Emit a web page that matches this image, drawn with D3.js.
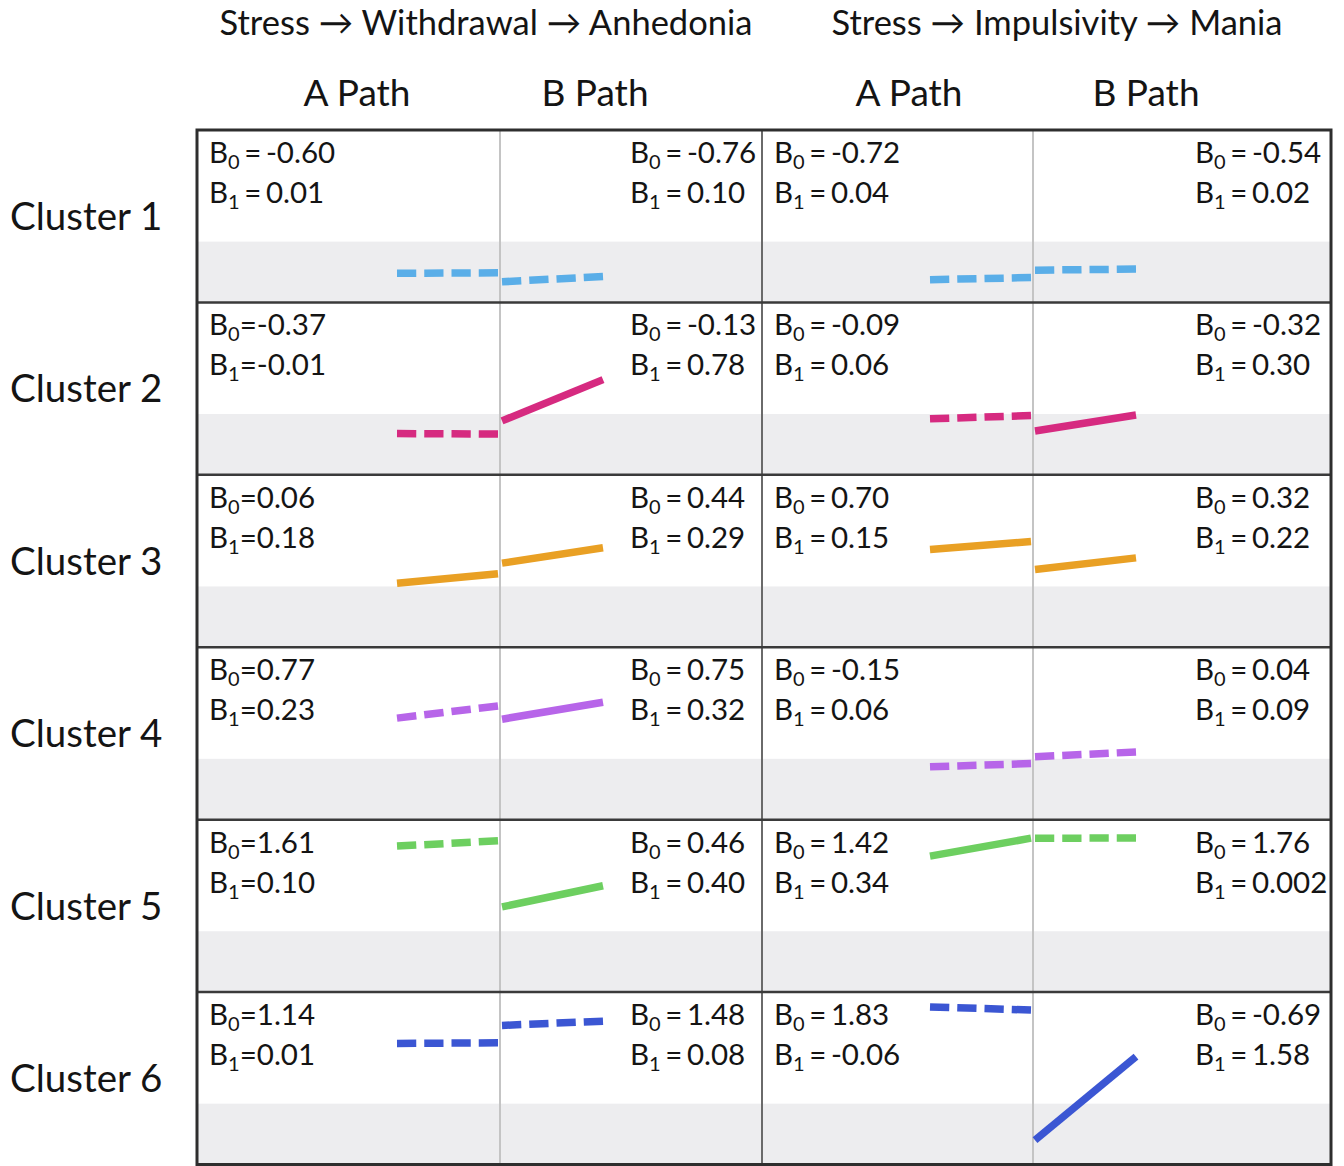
<!DOCTYPE html>
<html>
<head>
<meta charset="utf-8">
<script src="https://cdn.jsdelivr.net/npm/d3@7"></script>
<style>
  html, body { margin: 0; padding: 0; background: #fff; }
  svg { display: block; font-family: Lato, "Noto Sans", sans-serif; }
</style>
</head>
<body>
<svg id="chart" width="1344" height="1166"></svg>
<script>
// ---------- data ----------
const clusters = ["Cluster 1", "Cluster 2", "Cluster 3", "Cluster 4", "Cluster 5", "Cluster 6"];
const pathways = ["Stress \u2192 Withdrawal \u2192 Anhedonia", "Stress \u2192 Impulsivity \u2192 Mania"];
const pathLabels = ["A Path", "B Path"];
const clusterColors = ["#5aaee8", "#d62a80", "#e9a024", "#b765e9", "#6dcf60", "#3b56d3"];
// columns: [Withdrawal A, Withdrawal B, Impulsivity A, Impulsivity B]
const intercepts = [
  [-0.60, -0.76, -0.72, -0.54],
  [-0.37, -0.13, -0.09, -0.32],
  [ 0.06,  0.44,  0.70,  0.32],
  [ 0.77,  0.75, -0.15,  0.04],
  [ 1.61,  0.46,  1.42,  1.76],
  [ 1.14,  1.48,  1.83, -0.69]
];
const slopes = [
  [ 0.01, 0.10,  0.04, 0.02],
  [-0.01, 0.78,  0.06, 0.30],
  [ 0.18, 0.29,  0.15, 0.22],
  [ 0.23, 0.32,  0.06, 0.09],
  [ 0.10, 0.40,  0.34, 0.002],
  [ 0.01, 0.08, -0.06, 1.58]
];
const significant = [
  [false, false, false, false],
  [false, true,  false, true ],
  [true,  true,  true,  true ],
  [false, true,  false, false],
  [false, true,  true,  false],
  [false, false, false, true ]
];
const xValues = [0, 1];

// ---------- layout ----------
const svg = d3.select("#chart");
const colEdges = [197, 500, 762, 1033, 1331];
const gridTop = 130, gridBottom = 1164.5;

const rowScale = d3.scaleBand().domain(clusters).range([gridTop, gridBottom]).padding(0);
const rowH = rowScale.bandwidth();
const yDomain = [-1.15, 2.11];

const fmt = v => (Math.abs(v) > 0 && Math.abs(v) < 0.01) ? String(v) : v.toFixed(2);

// gray negative bands
clusters.forEach((c, r) => {
  const top = rowScale(c);
  const y = d3.scaleLinear().domain(yDomain).range([top + rowH, top]);
  svg.append("rect")
    .attr("x", colEdges[0]).attr("width", colEdges[4] - colEdges[0])
    .attr("y", y(0)).attr("height", top + rowH - y(0))
    .attr("fill", "#ededef");
});

// inner lines
const g = svg.append("g");
[1, 3].forEach(i => {
  g.append("line").attr("x1", colEdges[i]).attr("x2", colEdges[i])
    .attr("y1", gridTop).attr("y2", gridBottom)
    .attr("stroke", "#c4c4c4").attr("stroke-width", 2);
});
g.append("line").attr("x1", colEdges[2]).attr("x2", colEdges[2])
  .attr("y1", gridTop).attr("y2", gridBottom)
  .attr("stroke", "#6a6a6a").attr("stroke-width", 2);
clusters.slice(1).forEach(c => {
  g.append("line").attr("x1", colEdges[0]).attr("x2", colEdges[4])
    .attr("y1", rowScale(c)).attr("y2", rowScale(c))
    .attr("stroke", "#3a3a3a").attr("stroke-width", 2.5);
});
g.append("rect").attr("x", colEdges[0]).attr("y", gridTop)
  .attr("width", colEdges[4] - colEdges[0]).attr("height", gridBottom - gridTop)
  .attr("fill", "none").attr("stroke", "#2e2e2e").attr("stroke-width", 3);

// lines (regression segments)
const lineGen = d3.line();
const gap = 8;
clusters.forEach((c, r) => {
  const top = rowScale(c);
  const y = d3.scaleLinear().domain(yDomain).range([top + rowH, top]);
  for (let col = 0; col < 4; col++) {
    const divider = colEdges[col < 2 ? 1 : 3];
    const isA = col % 2 === 0;
    const x = d3.scaleLinear().domain([0, 1])
      .range(isA ? [divider - 103, divider - 2] : [divider + 2, divider + 103]);
    const pts = xValues.map(v => [x(v), y(intercepts[r][col] + slopes[r][col] * v)]);
    const p = svg.append("path")
      .attr("d", lineGen(pts))
      .attr("fill", "none")
      .attr("stroke", clusterColors[r])
      .attr("stroke-width", 7.5);
    if (!significant[r][col]) {
      const L = p.node().getTotalLength();
      const dash = (L - 3 * gap) / 4;
      p.attr("stroke-dasharray", dash + "," + gap);
    }
  }
});

// coefficient text
const textX = [209, 630, 774, 1195];
clusters.forEach((c, r) => {
  const top = rowScale(c);
  for (let col = 0; col < 4; col++) {
    const eq = (col === 0 && r > 0) ? "=" : " = ";
    const lines = [["0", intercepts[r][col]], ["1", slopes[r][col]]];
    lines.forEach(([sub, val], k) => {
      const t = svg.append("text")
        .attr("x", textX[col])
        .attr("y", top + 33 + k * 40)
        .attr("font-size", 29.5)
        .attr("word-spacing", -3)
        .attr("fill", "#141414");
      t.append("tspan").text("B");
      t.append("tspan").text(sub).attr("font-size", 20).attr("dy", 6);
      t.append("tspan").text(eq + fmt(val)).attr("dy", -6);
    });
  }
});

// row labels
clusters.forEach(c => {
  svg.append("text")
    .attr("x", 10).attr("y", rowScale(c) + rowH / 2 + 4)
    .attr("dominant-baseline", "middle")
    .attr("font-size", 38.5).attr("fill", "#141414")
    .text(c);
});

// column headers
const headerX = [357, 595, 909, 1146];
headerX.forEach((hx, i) => {
  svg.append("text")
    .attr("x", hx).attr("y", 97)
    .attr("text-anchor", "middle").attr("dominant-baseline", "middle")
    .attr("font-size", 37).attr("fill", "#141414")
    .text(pathLabels[i % 2]);
});

// pathway titles
const titleX = [486, 1057];
pathways.forEach((p, i) => {
  svg.append("text")
    .attr("x", titleX[i]).attr("y", 26)
    .attr("text-anchor", "middle").attr("dominant-baseline", "middle")
    .attr("font-size", 34.5).attr("fill", "#141414")
    .text(p);
});
</script>
</body>
</html>
